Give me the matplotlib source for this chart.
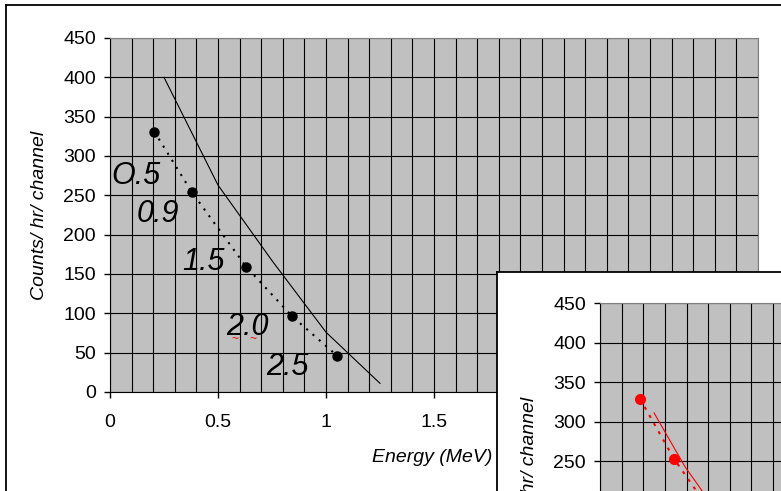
import numpy as np
import matplotlib.pyplot as plt
from matplotlib.ticker import MultipleLocator
from matplotlib.lines import Line2D

plt.rcParams['font.family'] = ['Liberation Sans', 'DejaVu Sans']

# measured points (energy in MeV, counts/hr/channel)
energy = [0.205, 0.379, 0.631, 0.844, 1.052]
counts = [331, 254, 159, 96, 46]

# solid reference curve
curve_e = [0.25, 0.5, 0.75, 1.0, 1.25]
curve_c = [400, 263, 167, 76, 11]

# point labels
labels = ['O.5', '0.9', '1.5', '2.0', '2.5']
label_x = [0.120, 0.222, 0.434, 0.637, 0.822]
label_y = [264, 216, 155, 72, 22]

# second (overlapping) chart, red series
red_energy = [0.185, 0.342, 0.58]
red_counts = [329, 253, 160]
red_curve_e = [0.25, 0.393, 0.471, 0.625]
red_curve_c = [311, 243, 213, 150]

yticks = list(range(0, 451, 50))
xticks = [0, 0.5, 1, 1.5, 2, 2.5, 3]
xtick_labels = ['0', '0.5', '1', '1.5', '2', '2.5', '3']

W, H = 781, 491
fig = plt.figure(figsize=(W / 100, H / 100), dpi=100)


def px(x0, y0, w, h):
    return [x0 / W, 1 - (y0 + h) / H, w / W, h / H]


def style_axes(ax):
    ax.set_facecolor('#c0c0c0')
    ax.set_xlim(0, 3)
    ax.set_ylim(0, 450)
    ax.set_xticks(xticks)
    ax.set_xticklabels(xtick_labels)
    ax.xaxis.set_minor_locator(MultipleLocator(0.1))
    ax.set_yticks(yticks)
    ax.grid(True, which='both', axis='x', color='black', linewidth=0.8)
    ax.grid(True, which='major', axis='y', color='black', linewidth=0.8)
    ax.set_axisbelow(True)
    ax.tick_params(axis='both', which='major', direction='out', length=4,
                   width=1, labelsize=14, color='black')
    ax.tick_params(axis='x', which='minor', length=0)
    ax.tick_params(axis='x', pad=12)
    ax.tick_params(axis='y', pad=6)
    for s in ['top', 'right']:
        ax.spines[s].set_color('#808080')
    for s in ['left', 'bottom']:
        ax.spines[s].set_color('black')


# main chart
ax = fig.add_axes(px(110, 38, 648, 354))
style_axes(ax)
ax.plot(curve_e, curve_c, color='black', linewidth=0.8)
ax.plot(energy, counts, color='black', linestyle=(0, (1, 3)), linewidth=1.5,
        marker='o', markersize=6.5)
for t, x, y in zip(labels, label_x, label_y):
    ax.text(x, y, t, fontsize=22, fontstyle='italic', ha='center', va='baseline')

# spell-check squiggles under "2.0"
for dx in (-9, 4):
    ax.annotate('~', xy=(label_x[3], label_y[3]), xytext=(dx, -3),
                textcoords='offset points', color='red', fontsize=9,
                ha='center', va='center')

fig.text(40 / W, 1 - 215 / H, 'Counts/ hr/ channel', rotation=90, fontsize=14,
         fontstyle='italic', ha='center', va='center')
fig.text(432 / W, 1 - 458 / H, 'Energy (MeV)', fontsize=14,
         fontstyle='italic', ha='center', va='center')

# outer chart frame
fig.add_artist(Line2D([6 / W, 6 / W], [0, 1 - 5 / H], color='black', linewidth=1.3))
fig.add_artist(Line2D([6 / W, 1], [1 - 5 / H, 1 - 5 / H], color='black', linewidth=1.3))

# overlapping second chart box
box = fig.add_axes([497 / W, -0.5, 0.5, 0.5 + (H - 272) / H])
box.set_facecolor('white')
box.set_xticks([])
box.set_yticks([])
for s in box.spines.values():
    s.set_color('black')
    s.set_linewidth(1.3)

ax2 = fig.add_axes(px(600, 303, 649, 356))
style_axes(ax2)
# only the upper tick labels fall inside the picture
ax2.set_yticklabels([str(v) if v >= 250 else '' for v in yticks])
ax2.tick_params(axis='x', labelbottom=False)
ax2.plot(red_curve_e, red_curve_c, color='red', linewidth=0.8)
ax2.plot(red_energy, red_counts, color='red', linestyle=(0, (1.5, 3)), linewidth=1.5,
         marker='o', markersize=7)
fig.text(530 / W, 1 - 481 / H, 'Counts/ hr/ channel', rotation=90, fontsize=14,
         fontstyle='italic', ha='center', va='center')

fig.savefig('out.png', dpi=100)
